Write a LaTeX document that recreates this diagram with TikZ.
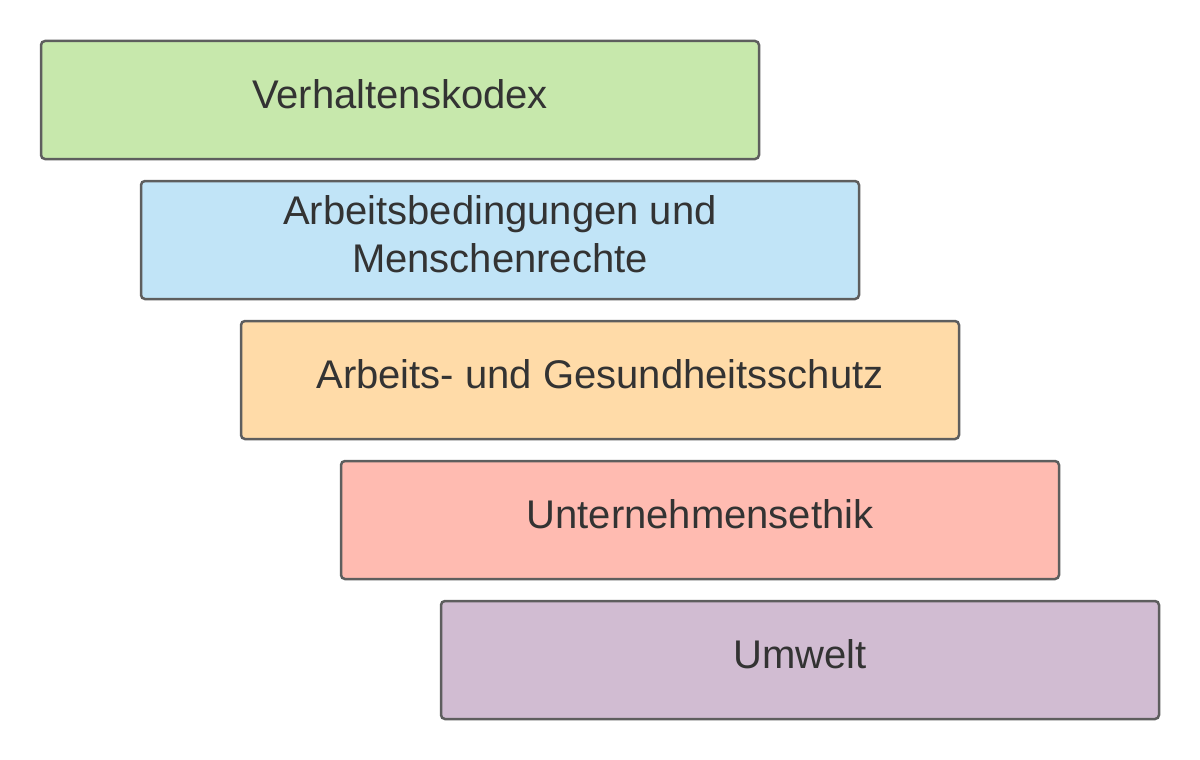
\documentclass[tikz,border=0pt]{standalone}
\usepackage{fontspec}
\setmainfont{Liberation Sans}
\usetikzlibrary{positioning}
\definecolor{kodexgreen}{HTML}{C7E8AC}
\definecolor{rechteblue}{HTML}{C1E4F7}
\definecolor{schutzorange}{HTML}{FFDBA8}
\definecolor{ethikred}{HTML}{FFBBB1}
\definecolor{umweltpurple}{HTML}{D1BCD2}
\definecolor{rim}{HTML}{5E5E5E}
\definecolor{ink}{HTML}{333333}
\tikzset{
    layer/.style={
           rectangle, rounded corners=4pt,
           draw=rim, line width=2.5pt,
           minimum width=718pt,
           minimum height=118pt,
           inner sep=0pt
           },
    caption/.style={
           inner sep=0pt,
           anchor=base,
           align=center,
           text=ink,
           font=\fontsize{40}{47.7}\selectfont
           }
}
\begin{document}
\begin{tikzpicture}[x=1pt, y=1pt, node distance=140pt and 100pt, on grid]
   \useasboundingbox (0,0) rectangle (1200,-760);
   \node[layer, fill=kodexgreen] (kodex) at (400,-100) {};
   \node[layer, fill=rechteblue] (rechte) [below right=of kodex] {};
   \node[layer, fill=schutzorange] (schutz) [below right=of rechte] {};
   \node[layer, fill=ethikred] (ethik) [below right=of schutz] {};
   \node[layer, fill=umweltpurple] (umwelt) [below right=of ethik] {};
   % labels sit a bit above the middle
   \node[caption] (kodextext) at ([yshift=-8pt]kodex.center) {Verhaltenskodex};
   \node[caption] (rechtetext) at ([yshift=-32pt]rechte.center) {Arbeitsbedingungen und\\Menschenrechte};
   \node[caption] (schutztext) at ([yshift=-8pt]schutz.center) {Arbeits- und Gesundheitsschutz};
   \node[caption] (ethiktext) at ([yshift=-8pt]ethik.center) {Unternehmensethik};
   \node[caption] (umwelttext) at ([yshift=-8pt]umwelt.center) {Umwelt};
\end{tikzpicture}
\end{document}
